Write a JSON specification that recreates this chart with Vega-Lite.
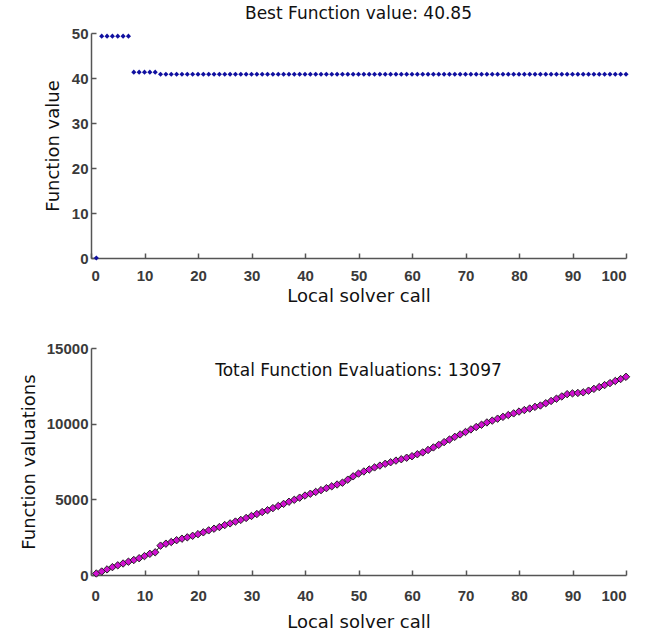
{
  "$schema": "https://vega.github.io/schema/vega-lite/v6.json",
  "background": "white",
  "padding": {"left": 20, "top": 5, "right": 10, "bottom": 2},
  "spacing": 36,
  "config": {
    "view": {"stroke": null},
    "font": "DejaVu Sans",
    "axis": {
      "grid": false,
      "domainColor": "#555555",
      "domainWidth": 1.5,
      "tickColor": "#555555",
      "tickWidth": 1.5,
      "tickSize": -5,
      "labelFont": "Liberation Sans",
      "labelFontSize": 15,
      "labelFontWeight": "bold",
      "labelColor": "#3a3a3a",
      "titleFont": "DejaVu Sans",
      "titleFontSize": 18,
      "titleFontWeight": "normal",
      "titleColor": "#111111",
      "format": "d"
    },
    "title": {"font": "DejaVu Sans", "fontSize": 17, "fontWeight": "normal", "color": "#111111"}
  },
  "datasets": {
    "best": [
      {"call": 1, "value": 0},
      {"call": 2, "value": 49.3}, {"call": 3, "value": 49.3}, {"call": 4, "value": 49.3}, {"call": 5, "value": 49.3}, {"call": 6, "value": 49.3}, {"call": 7, "value": 49.3},
      {"call": 8, "value": 41.3}, {"call": 9, "value": 41.3}, {"call": 10, "value": 41.3}, {"call": 11, "value": 41.3}, {"call": 12, "value": 41.3},
      {"call": 13, "value": 40.85}, {"call": 14, "value": 40.85}, {"call": 15, "value": 40.85}, {"call": 16, "value": 40.85}, {"call": 17, "value": 40.85}, {"call": 18, "value": 40.85}, {"call": 19, "value": 40.85}, {"call": 20, "value": 40.85},
      {"call": 21, "value": 40.85}, {"call": 22, "value": 40.85}, {"call": 23, "value": 40.85}, {"call": 24, "value": 40.85}, {"call": 25, "value": 40.85}, {"call": 26, "value": 40.85}, {"call": 27, "value": 40.85}, {"call": 28, "value": 40.85}, {"call": 29, "value": 40.85}, {"call": 30, "value": 40.85},
      {"call": 31, "value": 40.85}, {"call": 32, "value": 40.85}, {"call": 33, "value": 40.85}, {"call": 34, "value": 40.85}, {"call": 35, "value": 40.85}, {"call": 36, "value": 40.85}, {"call": 37, "value": 40.85}, {"call": 38, "value": 40.85}, {"call": 39, "value": 40.85}, {"call": 40, "value": 40.85},
      {"call": 41, "value": 40.85}, {"call": 42, "value": 40.85}, {"call": 43, "value": 40.85}, {"call": 44, "value": 40.85}, {"call": 45, "value": 40.85}, {"call": 46, "value": 40.85}, {"call": 47, "value": 40.85}, {"call": 48, "value": 40.85}, {"call": 49, "value": 40.85}, {"call": 50, "value": 40.85},
      {"call": 51, "value": 40.85}, {"call": 52, "value": 40.85}, {"call": 53, "value": 40.85}, {"call": 54, "value": 40.85}, {"call": 55, "value": 40.85}, {"call": 56, "value": 40.85}, {"call": 57, "value": 40.85}, {"call": 58, "value": 40.85}, {"call": 59, "value": 40.85}, {"call": 60, "value": 40.85},
      {"call": 61, "value": 40.85}, {"call": 62, "value": 40.85}, {"call": 63, "value": 40.85}, {"call": 64, "value": 40.85}, {"call": 65, "value": 40.85}, {"call": 66, "value": 40.85}, {"call": 67, "value": 40.85}, {"call": 68, "value": 40.85}, {"call": 69, "value": 40.85}, {"call": 70, "value": 40.85},
      {"call": 71, "value": 40.85}, {"call": 72, "value": 40.85}, {"call": 73, "value": 40.85}, {"call": 74, "value": 40.85}, {"call": 75, "value": 40.85}, {"call": 76, "value": 40.85}, {"call": 77, "value": 40.85}, {"call": 78, "value": 40.85}, {"call": 79, "value": 40.85}, {"call": 80, "value": 40.85},
      {"call": 81, "value": 40.85}, {"call": 82, "value": 40.85}, {"call": 83, "value": 40.85}, {"call": 84, "value": 40.85}, {"call": 85, "value": 40.85}, {"call": 86, "value": 40.85}, {"call": 87, "value": 40.85}, {"call": 88, "value": 40.85}, {"call": 89, "value": 40.85}, {"call": 90, "value": 40.85},
      {"call": 91, "value": 40.85}, {"call": 92, "value": 40.85}, {"call": 93, "value": 40.85}, {"call": 94, "value": 40.85}, {"call": 95, "value": 40.85}, {"call": 96, "value": 40.85}, {"call": 97, "value": 40.85}, {"call": 98, "value": 40.85}, {"call": 99, "value": 40.85}, {"call": 100, "value": 40.85}
    ],
    "evals": [
      {"call": 1, "evals": 100}, {"call": 2, "evals": 230}, {"call": 3, "evals": 370}, {"call": 4, "evals": 520}, {"call": 5, "evals": 640},
      {"call": 6, "evals": 760}, {"call": 7, "evals": 880}, {"call": 8, "evals": 990}, {"call": 9, "evals": 1110}, {"call": 10, "evals": 1250},
      {"call": 11, "evals": 1400}, {"call": 12, "evals": 1500}, {"call": 13, "evals": 1940}, {"call": 14, "evals": 2070}, {"call": 15, "evals": 2180},
      {"call": 16, "evals": 2300}, {"call": 17, "evals": 2400}, {"call": 18, "evals": 2490}, {"call": 19, "evals": 2590}, {"call": 20, "evals": 2700},
      {"call": 21, "evals": 2820}, {"call": 22, "evals": 2950}, {"call": 23, "evals": 3060}, {"call": 24, "evals": 3170}, {"call": 25, "evals": 3300},
      {"call": 26, "evals": 3410}, {"call": 27, "evals": 3530}, {"call": 28, "evals": 3640}, {"call": 29, "evals": 3770}, {"call": 30, "evals": 3900},
      {"call": 31, "evals": 4030}, {"call": 32, "evals": 4160}, {"call": 33, "evals": 4280}, {"call": 34, "evals": 4420}, {"call": 35, "evals": 4560},
      {"call": 36, "evals": 4700}, {"call": 37, "evals": 4840}, {"call": 38, "evals": 4970}, {"call": 39, "evals": 5110}, {"call": 40, "evals": 5250},
      {"call": 41, "evals": 5370}, {"call": 42, "evals": 5490}, {"call": 43, "evals": 5610}, {"call": 44, "evals": 5740}, {"call": 45, "evals": 5860},
      {"call": 46, "evals": 5980}, {"call": 47, "evals": 6100}, {"call": 48, "evals": 6300}, {"call": 49, "evals": 6520}, {"call": 50, "evals": 6700},
      {"call": 51, "evals": 6840}, {"call": 52, "evals": 6970}, {"call": 53, "evals": 7110}, {"call": 54, "evals": 7230}, {"call": 55, "evals": 7350},
      {"call": 56, "evals": 7450}, {"call": 57, "evals": 7560}, {"call": 58, "evals": 7650}, {"call": 59, "evals": 7750}, {"call": 60, "evals": 7850},
      {"call": 61, "evals": 7980}, {"call": 62, "evals": 8100}, {"call": 63, "evals": 8260}, {"call": 64, "evals": 8430}, {"call": 65, "evals": 8600},
      {"call": 66, "evals": 8780}, {"call": 67, "evals": 8950}, {"call": 68, "evals": 9130}, {"call": 69, "evals": 9290}, {"call": 70, "evals": 9450},
      {"call": 71, "evals": 9620}, {"call": 72, "evals": 9780}, {"call": 73, "evals": 9930}, {"call": 74, "evals": 10080}, {"call": 75, "evals": 10200},
      {"call": 76, "evals": 10330}, {"call": 77, "evals": 10450}, {"call": 78, "evals": 10570}, {"call": 79, "evals": 10680}, {"call": 80, "evals": 10800},
      {"call": 81, "evals": 10900}, {"call": 82, "evals": 11000}, {"call": 83, "evals": 11110}, {"call": 84, "evals": 11200}, {"call": 85, "evals": 11350},
      {"call": 86, "evals": 11500}, {"call": 87, "evals": 11650}, {"call": 88, "evals": 11800}, {"call": 89, "evals": 11950}, {"call": 90, "evals": 12000},
      {"call": 91, "evals": 12030}, {"call": 92, "evals": 12070}, {"call": 93, "evals": 12180}, {"call": 94, "evals": 12300}, {"call": 95, "evals": 12420},
      {"call": 96, "evals": 12550}, {"call": 97, "evals": 12680}, {"call": 98, "evals": 12820}, {"call": 99, "evals": 12950}, {"call": 100, "evals": 13097}
    ]
  },
  "vconcat": [
    {
      "width": 535,
      "height": 225,
      "title": {"text": "Best Function value: 40.85", "offset": 3},
      "data": {"name": "best"},
      "encoding": {
        "x": {"field": "call", "type": "quantitative", "scale": {"domain": [0, 100], "nice": false}, "axis": {"title": "Local solver call", "values": [0,10,20,30,40,50,60,70,80,90,100], "labelPadding": 15, "titlePadding": 4}},
        "y": {"field": "value", "type": "quantitative", "scale": {"domain": [0, 50], "nice": false}, "axis": {"title": "Function value", "values": [0,10,20,30,40,50], "labelPadding": 8, "titlePadding": 9}}
      },
      "layer": [
        {"mark": {"type": "point", "shape": "diamond", "filled": true, "size": 26, "color": "#1010a0", "opacity": 1}}
      ]
    },
    {
      "width": 535,
      "height": 227,
      "title": {"text": "Total Function Evaluations: 13097", "offset": -39},
      "data": {"name": "evals"},
      "encoding": {
        "x": {"field": "call", "type": "quantitative", "scale": {"domain": [0, 100], "nice": false}, "axis": {"title": "Local solver call", "values": [0,10,20,30,40,50,60,70,80,90,100], "labelPadding": 18, "titlePadding": 10}},
        "y": {"field": "evals", "type": "quantitative", "scale": {"domain": [0, 15000], "nice": false}, "axis": {"title": "Function valuations", "values": [0,5000,10000,15000], "labelPadding": 8, "titlePadding": 8}}
      },
      "layer": [
        {"mark": {"type": "line", "color": "#222222", "strokeWidth": 1}},
        {"mark": {"type": "point", "shape": "diamond", "filled": true, "size": 55, "color": "#d010d0", "stroke": "#222222", "strokeWidth": 1, "opacity": 1}}
      ]
    }
  ]
}
